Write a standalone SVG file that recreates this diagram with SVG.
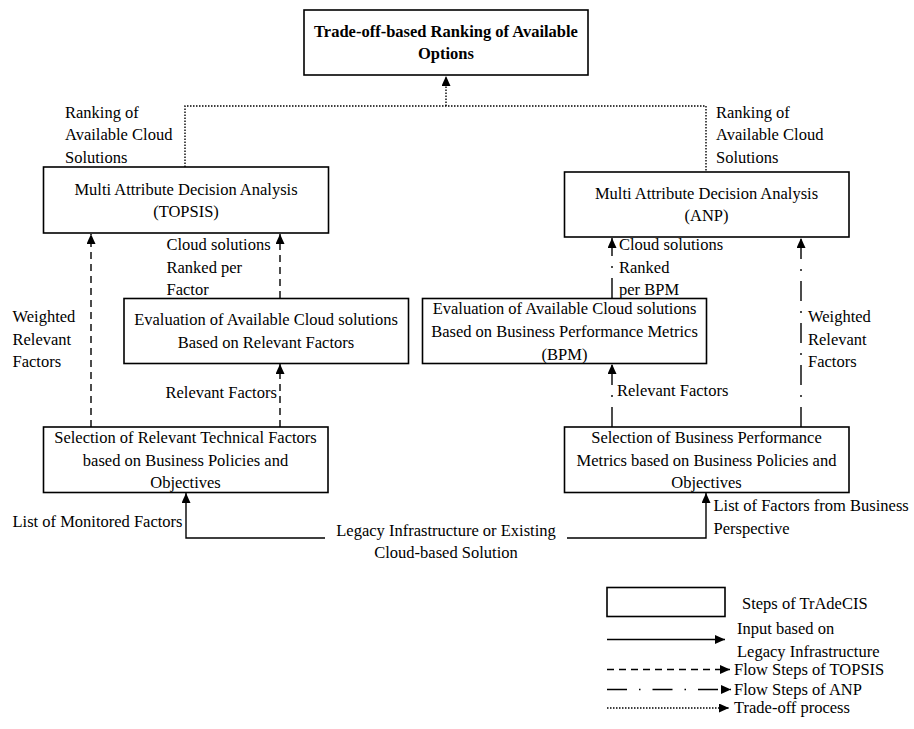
<svg xmlns="http://www.w3.org/2000/svg" width="914" height="729" viewBox="0 0 914 729">
<style>
text{font-family:"Liberation Serif","Times New Roman",serif;font-size:16.5px;fill:#000}
.c{text-anchor:middle}
.b{font-weight:bold}
.box{fill:#fff;stroke:#000;stroke-width:1.6}
.ln{fill:none;stroke:#000;stroke-width:1.4}
.solid{}
.dash{stroke-dasharray:7,5}
.dd{stroke-dasharray:20,10,2,10}
.dot{stroke-dasharray:1.5,1.5}
</style>
<defs>
<marker id="ah" markerUnits="userSpaceOnUse" markerWidth="10" markerHeight="10" refX="10" refY="4.5" orient="auto">
<path d="M0,0 L10,4.5 L0,9 z" fill="#000"/>
</marker>
</defs>

<g id="connectors">
<!-- trade-off dotted -->
<polyline class="ln dot" points="185,167 185,106 706,106 706,172"/>
<line class="ln dot" x1="446" y1="106" x2="446" y2="76" marker-end="url(#ah)"/>
<!-- TOPSIS flow -->
<line class="ln dash" x1="91" y1="427" x2="91" y2="234" marker-end="url(#ah)"/>
<line class="ln dash" x1="280" y1="298" x2="280" y2="234" marker-end="url(#ah)"/>
<line class="ln dash" x1="280" y1="427" x2="280" y2="364" marker-end="url(#ah)"/>
<!-- ANP flow -->
<line class="ln dd" x1="612" y1="298" x2="612" y2="238" marker-end="url(#ah)"/>
<line class="ln dd" x1="801" y1="427" x2="801" y2="238" marker-end="url(#ah)"/>
<line class="ln dd" x1="612" y1="427" x2="612" y2="364" marker-end="url(#ah)"/>
<!-- legacy input -->
<polyline class="ln" points="325,538 186,538 186,493" marker-end="url(#ah)"/>
<polyline class="ln" points="567,538 706,538 706,493" marker-end="url(#ah)"/>
</g>

<g id="top">
<rect class="box" x="304" y="10" width="284" height="65"/>
<text class="c b" x="446" y="37">Trade-off-based Ranking of Available</text>
<text class="c b" x="446" y="59">Options</text>
</g>

<g id="topsis">
<rect class="box" x="43.5" y="167" width="285" height="66"/>
<text class="c" x="186" y="195">Multi Attribute Decision Analysis</text>
<text class="c" x="186" y="217">(TOPSIS)</text>
</g>

<g id="anp">
<rect class="box" x="564.5" y="172" width="284.5" height="65"/>
<text class="c" x="706.5" y="198.5">Multi Attribute Decision Analysis</text>
<text class="c" x="706.5" y="220.5">(ANP)</text>
</g>

<g id="eval-left">
<rect class="box" x="124" y="298.5" width="284.5" height="65"/>
<text class="c" x="266" y="325">Evaluation of Available Cloud solutions</text>
<text class="c" x="266" y="348">Based on Relevant Factors</text>
</g>

<g id="eval-bpm">
<rect class="box" x="422.5" y="298.5" width="284" height="65"/>
<text class="c" x="564.5" y="314">Evaluation of Available Cloud solutions</text>
<text class="c" x="564.5" y="337">Based on Business Performance Metrics</text>
<text class="c" x="564.5" y="359.5">(BPM)</text>
</g>

<g id="sel-left">
<rect class="box" x="43.5" y="427" width="284.5" height="65.5"/>
<text class="c" x="185.5" y="443">Selection of Relevant Technical Factors</text>
<text class="c" x="185.5" y="465.5">based on Business Policies and</text>
<text class="c" x="185.5" y="488">Objectives</text>
</g>

<g id="sel-right">
<rect class="box" x="564.5" y="427" width="284.5" height="65.5"/>
<text class="c" x="706.5" y="443">Selection of Business Performance</text>
<text class="c" x="706.5" y="465.5">Metrics based on Business Policies and</text>
<text class="c" x="706.5" y="488">Objectives</text>
</g>

<g id="labels">
<text x="65" y="117.5">Ranking of</text>
<text x="65" y="139.5">Available Cloud</text>
<text x="65" y="162.5">Solutions</text>
<text x="716" y="117.5">Ranking of</text>
<text x="716" y="139.5">Available Cloud</text>
<text x="716" y="162.5">Solutions</text>
<text x="166.5" y="249.5">Cloud solutions</text>
<text x="166.5" y="272.5">Ranked per</text>
<text x="166.5" y="294.5">Factor</text>
<text x="619" y="250">Cloud solutions</text>
<text x="619" y="272.5">Ranked</text>
<text x="619" y="294.5">per BPM</text>
<text x="12.5" y="322">Weighted</text>
<text x="12.5" y="345">Relevant</text>
<text x="12.5" y="367">Factors</text>
<text x="808" y="322">Weighted</text>
<text x="808" y="345">Relevant</text>
<text x="808" y="367">Factors</text>
<text x="165.5" y="398">Relevant Factors</text>
<text x="617" y="395.5">Relevant Factors</text>
<text x="12.5" y="527">List of Monitored Factors</text>
<text class="c" x="446" y="536">Legacy Infrastructure or Existing</text>
<text class="c" x="446" y="558">Cloud-based Solution</text>
<text x="713.5" y="510.5">List of Factors from Business</text>
<text x="713.5" y="534">Perspective</text>
</g>

<g id="legend">
<rect class="box" x="607" y="587.5" width="118" height="29"/>
<text x="742" y="609">Steps of TrAdeCIS</text>
<line class="ln" x1="607" y1="639.5" x2="725" y2="639.5" marker-end="url(#ah)"/>
<text x="737" y="634">Input based on</text>
<text x="737" y="656.5">Legacy Infrastructure</text>
<line class="ln dash" x1="607" y1="669.5" x2="730" y2="669.5" marker-end="url(#ah)"/>
<text x="734" y="674.5">Flow Steps of TOPSIS</text>
<line class="ln" style="stroke-dasharray:20,12,1.5,12" x1="607" y1="689.5" x2="731" y2="689.5" marker-end="url(#ah)"/>
<text x="734" y="694.5">Flow Steps of ANP</text>
<line class="ln dot" x1="607" y1="708" x2="729" y2="708" marker-end="url(#ah)"/>
<text x="734" y="712.5">Trade-off process</text>
</g>
</svg>
